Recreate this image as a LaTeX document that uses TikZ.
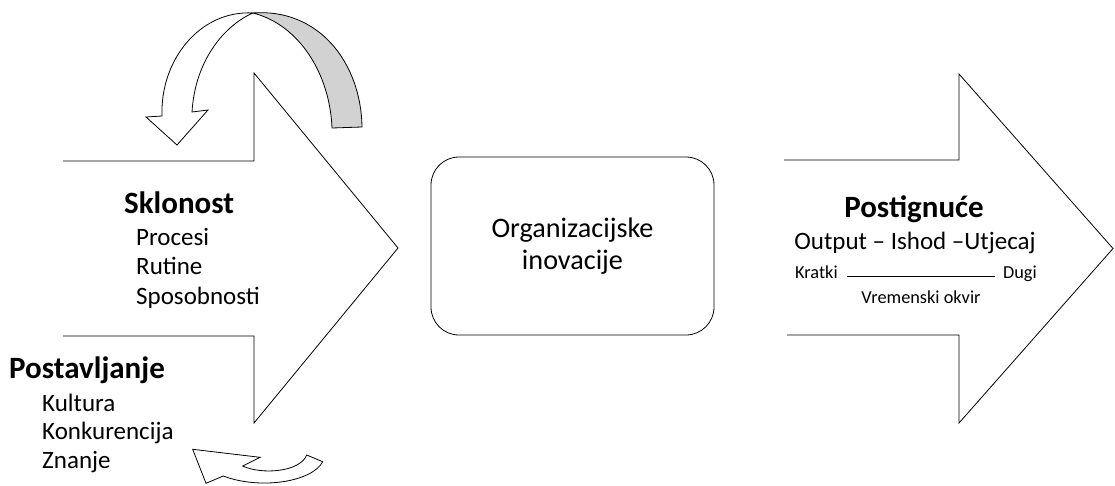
\documentclass[tikz,border=0pt]{standalone}
\usepackage{fontspec}
\setmainfont{Carlito}

\begin{document}
\begin{tikzpicture}[x=1pt, y=-1pt,
    bigarrow/.style={draw, line width=0.8pt},
    headtext/.style={inner sep=0pt, font=\fontsize{31}{36}\selectfont\bfseries},
    itemtext/.style={inner sep=0pt, font=\fontsize{25}{30}\selectfont},
    smalltext/.style={inner sep=0pt, font=\fontsize{18.3}{22}\selectfont}
    ]
    \useasboundingbox (0,0) rectangle (1115,485);
    % the two big arrows, open at the back
    \draw[bigarrow] (63,161) -- (254,161) -- (254,73) -- (398,248) -- (254,423) -- (254,336) -- (63,336);
    \draw[bigarrow] (784,160) -- (959,160) -- (959,74) -- (1113,248.5) -- (959,423) -- (959,335) -- (787,335);
    % curved arrow on top
    \draw[line width=0.8pt, fill=gray!35] (253,13) .. controls (318,8) and (361,62) .. (362,127)
      -- (332,128) .. controls (330,75) and (300,25) .. (253,13) -- cycle;
    \draw[line width=0.8pt, fill=white] (253,13) .. controls (200,10) and (160,60) .. (162,116)
      -- (146,117) -- (177,145) -- (208,110) -- (192,112)
      .. controls (195,60) and (225,25) .. (253,13) -- cycle;
    % curved arrow at the bottom
    \draw[line width=0.8pt, fill=white] (192.7,449.3) -- (260,457.3) -- (242.7,466)
      .. controls (262,475) and (300,472) .. (306.7,455) -- (322.7,461.7)
      .. controls (312,482) and (260,490) .. (223.3,476) -- (206,483.3) -- cycle;
    % middle box
    \node[draw, line width=0.8pt, rounded corners=28pt, minimum width=283pt, minimum height=178pt,
      align=center, font=\fontsize{28.2}{32}\selectfont] (orgInov) at (572.5,246) {Organizacijske\\inovacije};
    % left texts
    \node[headtext, anchor=base west] (sklonost) at (124,213) {Sklonost};
    \foreach \t [count=\i] in {Procesi,Rutine,Sposobnosti}
      \node[itemtext, anchor=base west] (skl\i) at (136,{245+29.5*(\i-1)}) {\t};
    \node[headtext, anchor=base west] (postav) at (9,378) {Postavljanje};
    \foreach \t [count=\i] in {Kultura,Konkurencija,Znanje}
      \node[itemtext, anchor=base west] (pos\i) at (42,{411+28.5*(\i-1)}) {\t};
    % right texts
    \node[headtext, anchor=base] (postig) at (914,217) {Postignuće};
    \node[itemtext, anchor=base] (output) at (915,249) {Output – Ishod –Utjecaj};
    \node[smalltext, anchor=base west] (kratki) at (795,278) {Kratki};
    \node[smalltext, anchor=base east] (dugi) at (1037,278) {Dugi};
    \node[smalltext, anchor=base] (okvir) at (921,303) {Vremenski okvir};
    \draw[line width=0.8pt] ([xshift=9pt, yshift=2pt]kratki.base east) -- ([xshift=-8pt, yshift=2pt]dugi.base west);
  \end{tikzpicture}
\end{document}
